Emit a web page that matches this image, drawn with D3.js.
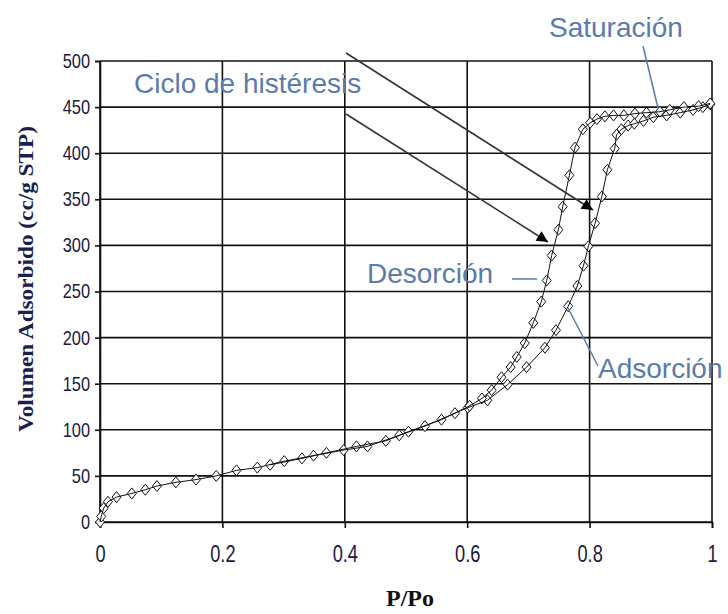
<!DOCTYPE html>
<html lang="es">
<head>
<meta charset="utf-8">
<title>Isoterma</title>
<script src="https://d3js.org/d3.v7.min.js"></script>
<style>
  body { margin: 0; background: #fff; }
  .tick text { font-family: "Liberation Sans", Arial, sans-serif; fill: #1a1a3c; }
  .note { font-family: "Liberation Sans", Arial, sans-serif; fill: #5b7aae; font-size: 28px; }
</style>
</head>
<body>
<svg id="chart"></svg>
<script>
// data
const adsX = [0, 0.002, 0.006, 0.013, 0.027, 0.052, 0.074, 0.093, 0.124, 0.157, 0.19, 0.223, 0.257, 0.301, 0.349, 0.398, 0.437, 0.489, 0.531, 0.58, 0.601, 0.633, 0.666, 0.697, 0.727, 0.745, 0.765, 0.78, 0.79, 0.798, 0.809, 0.82, 0.829, 0.841, 0.844, 0.852, 0.863, 0.873, 0.888, 0.904, 0.926, 0.948, 0.969, 0.985, 0.997];
const adsY = [0, 6, 15, 22, 27, 31, 35, 39, 43, 46, 50, 56, 59, 66, 72, 78, 82, 94, 104, 118, 124, 132, 149, 168, 189, 208, 234, 256, 278, 299, 324, 353, 382, 405, 420, 426, 430, 432, 435, 439, 441, 444, 447, 450, 453];
const desX = [0.997, 0.978, 0.954, 0.931, 0.915, 0.893, 0.874, 0.856, 0.839, 0.825, 0.812, 0.801, 0.789, 0.776, 0.767, 0.756, 0.749, 0.738, 0.73, 0.721, 0.708, 0.694, 0.681, 0.671, 0.656, 0.64, 0.624, 0.604, 0.558, 0.504, 0.467, 0.419, 0.37, 0.33, 0.278];
const desY = [454, 451, 450, 447, 445, 444, 443, 441, 441, 440, 437, 433, 426, 406, 376, 342, 317, 289, 262, 239, 216, 194, 179, 168, 157, 143, 134, 126, 111, 98, 88, 82, 75, 69, 62];
const xTicks = [0, 0.2, 0.4, 0.6, 0.8, 1];
const xTickLabels = ["0", "0.2", "0.4", "0.6", "0.8", "1"];
const yTicks = [0, 50, 100, 150, 200, 250, 300, 350, 400, 450, 500];

const W = 728, H = 614;
const margin = {top: 61, right: 16, bottom: 92, left: 100};
const width = W - margin.left - margin.right;
const height = H - margin.top - margin.bottom;

const svg = d3.select("#chart").attr("width", W).attr("height", H);

const x = d3.scaleLinear().domain([0, 1]).range([0, width]);
const y = d3.scaleLinear().domain([0, 500]).range([height, 0]);

const g = svg.append("g").attr("transform", "translate(" + margin.left + "," + margin.top + ")");

// grid
g.append("g").selectAll("line").data(yTicks).enter().append("line")
  .attr("x1", 0).attr("x2", width)
  .attr("y1", d => y(d)).attr("y2", d => y(d))
  .attr("stroke", "#111").attr("stroke-width", 1.6);
g.append("g").selectAll("line").data(xTicks).enter().append("line")
  .attr("y1", 0).attr("y2", height)
  .attr("x1", d => x(d)).attr("x2", d => x(d))
  .attr("stroke", "#111").attr("stroke-width", 1.6);

// axes (labels squeezed to look like a narrow font)
const yAxis = g.append("g")
  .call(d3.axisLeft(y).tickValues(yTicks).tickSize(5).tickPadding(5));
yAxis.selectAll("text")
  .attr("font-size", 20)
  .attr("x", 0)
  .attr("transform", "translate(-10,0) scale(0.82,1)");

const xAxis = g.append("g").attr("transform", "translate(0," + height + ")")
  .call(d3.axisBottom(x).tickValues(xTicks).tickSize(6).tickPadding(17)
        .tickFormat((d, i) => xTickLabels[i]));
xAxis.selectAll("text")
  .attr("font-size", 24)
  .attr("transform", "scale(0.76,1)");

g.selectAll(".domain").attr("stroke", "#111").attr("stroke-width", 1.6);
g.selectAll(".tick line").attr("stroke", "#111").attr("stroke-width", 1.6);

// series
const ads = adsX.map((d, i) => [d, adsY[i]]);
const des = desX.map((d, i) => [d, desY[i]]);
const line = d3.line().x(d => x(d[0])).y(d => y(d[1]));
const diamond = "M0,-5.5L4.5,0L0,5.5L-4.5,0Z";

[ads, des].forEach(function(s) {
  g.append("g").selectAll("path").data(s).enter().append("path")
    .attr("d", diamond)
    .attr("transform", d => "translate(" + x(d[0]) + "," + y(d[1]) + ")")
    .attr("fill", "#fff").attr("stroke", "#111").attr("stroke-width", 1);
});
[ads, des].forEach(function(s) {
  g.append("path").datum(s).attr("d", line)
    .attr("fill", "none").attr("stroke", "#111").attr("stroke-width", 1);
});

// axis titles
svg.append("text")
  .attr("transform", "translate(33,279) rotate(-90)")
  .attr("text-anchor", "middle")
  .attr("font-family", "'Liberation Serif', 'Times New Roman', serif")
  .attr("font-weight", "bold")
  .attr("font-size", 21)
  .attr("textLength", 306).attr("lengthAdjust", "spacingAndGlyphs")
  .attr("fill", "#1c2050")
  .text("Volumen Adsorbido (cc/g STP)");

svg.append("text")
  .attr("x", 410).attr("y", 606)
  .attr("text-anchor", "middle")
  .attr("font-family", "'Liberation Serif', 'Times New Roman', serif")
  .attr("font-weight", "bold")
  .attr("font-size", 24)
  .attr("fill", "#111")
  .text("P/Po");

// annotations
svg.append("defs").append("marker")
  .attr("id", "head").attr("viewBox", "0 0 10 10")
  .attr("refX", 10).attr("refY", 5)
  .attr("markerWidth", 9).attr("markerHeight", 7)
  .attr("markerUnits", "strokeWidth")
  .attr("orient", "auto")
  .append("path").attr("d", "M0,0L10,5L0,10Z").attr("fill", "#000");

svg.append("line").attr("x1", 346).attr("y1", 53).attr("x2", 593).attr("y2", 210)
  .attr("stroke", "#333").attr("stroke-width", 1.6).attr("marker-end", "url(#head)");
svg.append("line").attr("x1", 346).attr("y1", 114).attr("x2", 548).attr("y2", 242)
  .attr("stroke", "#333").attr("stroke-width", 1.6).attr("marker-end", "url(#head)");

svg.append("line").attr("x1", 643).attr("y1", 46).attr("x2", 658).attr("y2", 108)
  .attr("stroke", "#5b7aae").attr("stroke-width", 1.5);
svg.append("line").attr("x1", 512).attr("y1", 279).attr("x2", 537).attr("y2", 279)
  .attr("stroke", "#5b7aae").attr("stroke-width", 1.5);
svg.append("line").attr("x1", 568).attr("y1", 308).attr("x2", 598).attr("y2", 366)
  .attr("stroke", "#5b7aae").attr("stroke-width", 1.5);

svg.append("text").attr("class", "note").attr("x", 549).attr("y", 37).text("Saturación");
svg.append("text").attr("class", "note").attr("x", 134).attr("y", 93).attr("font-size", 27).text("Ciclo de histéresis");
svg.append("text").attr("class", "note").attr("x", 367).attr("y", 283).text("Desorción");
svg.append("text").attr("class", "note").attr("x", 598).attr("y", 378).text("Adsorción");
</script>
</body>
</html>
